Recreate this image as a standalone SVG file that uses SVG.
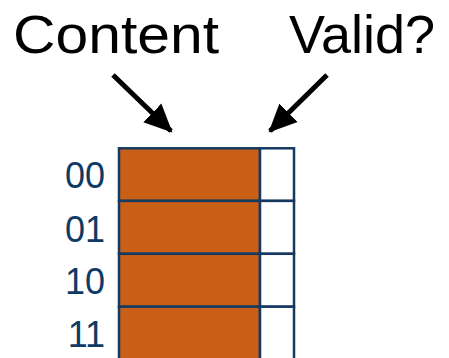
<svg xmlns="http://www.w3.org/2000/svg" width="449" height="358" viewBox="0 0 449 358">
<style>
.t{font-family:"Liberation Sans",Arial,sans-serif;fill:#000}
.lbl{font-family:"Liberation Sans",Arial,sans-serif;font-size:36px;fill:#0f3a66;text-anchor:end}
.c{fill:#c95f16;stroke:#143a62;stroke-width:2.5}
.v{fill:#fff;stroke:#143a62;stroke-width:2.5}
.arr{stroke:#000;stroke-width:5;fill:none;marker-end:url(#ah)}
</style>
<defs>
<marker id="ah" markerUnits="userSpaceOnUse" markerWidth="30" markerHeight="30" refX="26" refY="13" orient="auto" viewBox="0 0 30 26">
<path d="M0,0 L28,13 L0,26 z" fill="#000"/>
</marker>
</defs>
<g id="title-content"><text class="t" x="13" y="53" font-size="54" textLength="206" lengthAdjust="spacingAndGlyphs">Content</text></g>
<g id="title-valid"><text class="t" x="289" y="53" font-size="54">Valid?</text></g>
<g id="connectors">
<line class="arr" x1="113" y1="75" x2="171" y2="131"/>
<line class="arr" x1="327" y1="75" x2="270" y2="131"/>
</g>
<g id="row00"><rect class="c" x="119" y="148.3" width="141" height="52.6"/><rect class="v" x="260" y="148.3" width="34" height="52.6"/><text class="lbl" x="105" y="188">00</text></g>
<g id="row01"><rect class="c" x="119" y="200.9" width="141" height="52.9"/><rect class="v" x="260" y="200.9" width="34" height="52.9"/><text class="lbl" x="105" y="241.5">01</text></g>
<g id="row10"><rect class="c" x="119" y="253.8" width="141" height="52.9"/><rect class="v" x="260" y="253.8" width="34" height="52.9"/><text class="lbl" x="105" y="294">10</text></g>
<g id="row11"><rect class="c" x="119" y="306.7" width="141" height="60"/><rect class="v" x="260" y="306.7" width="34" height="60"/><text class="lbl" x="105" y="346.5">11</text></g>
</svg>
